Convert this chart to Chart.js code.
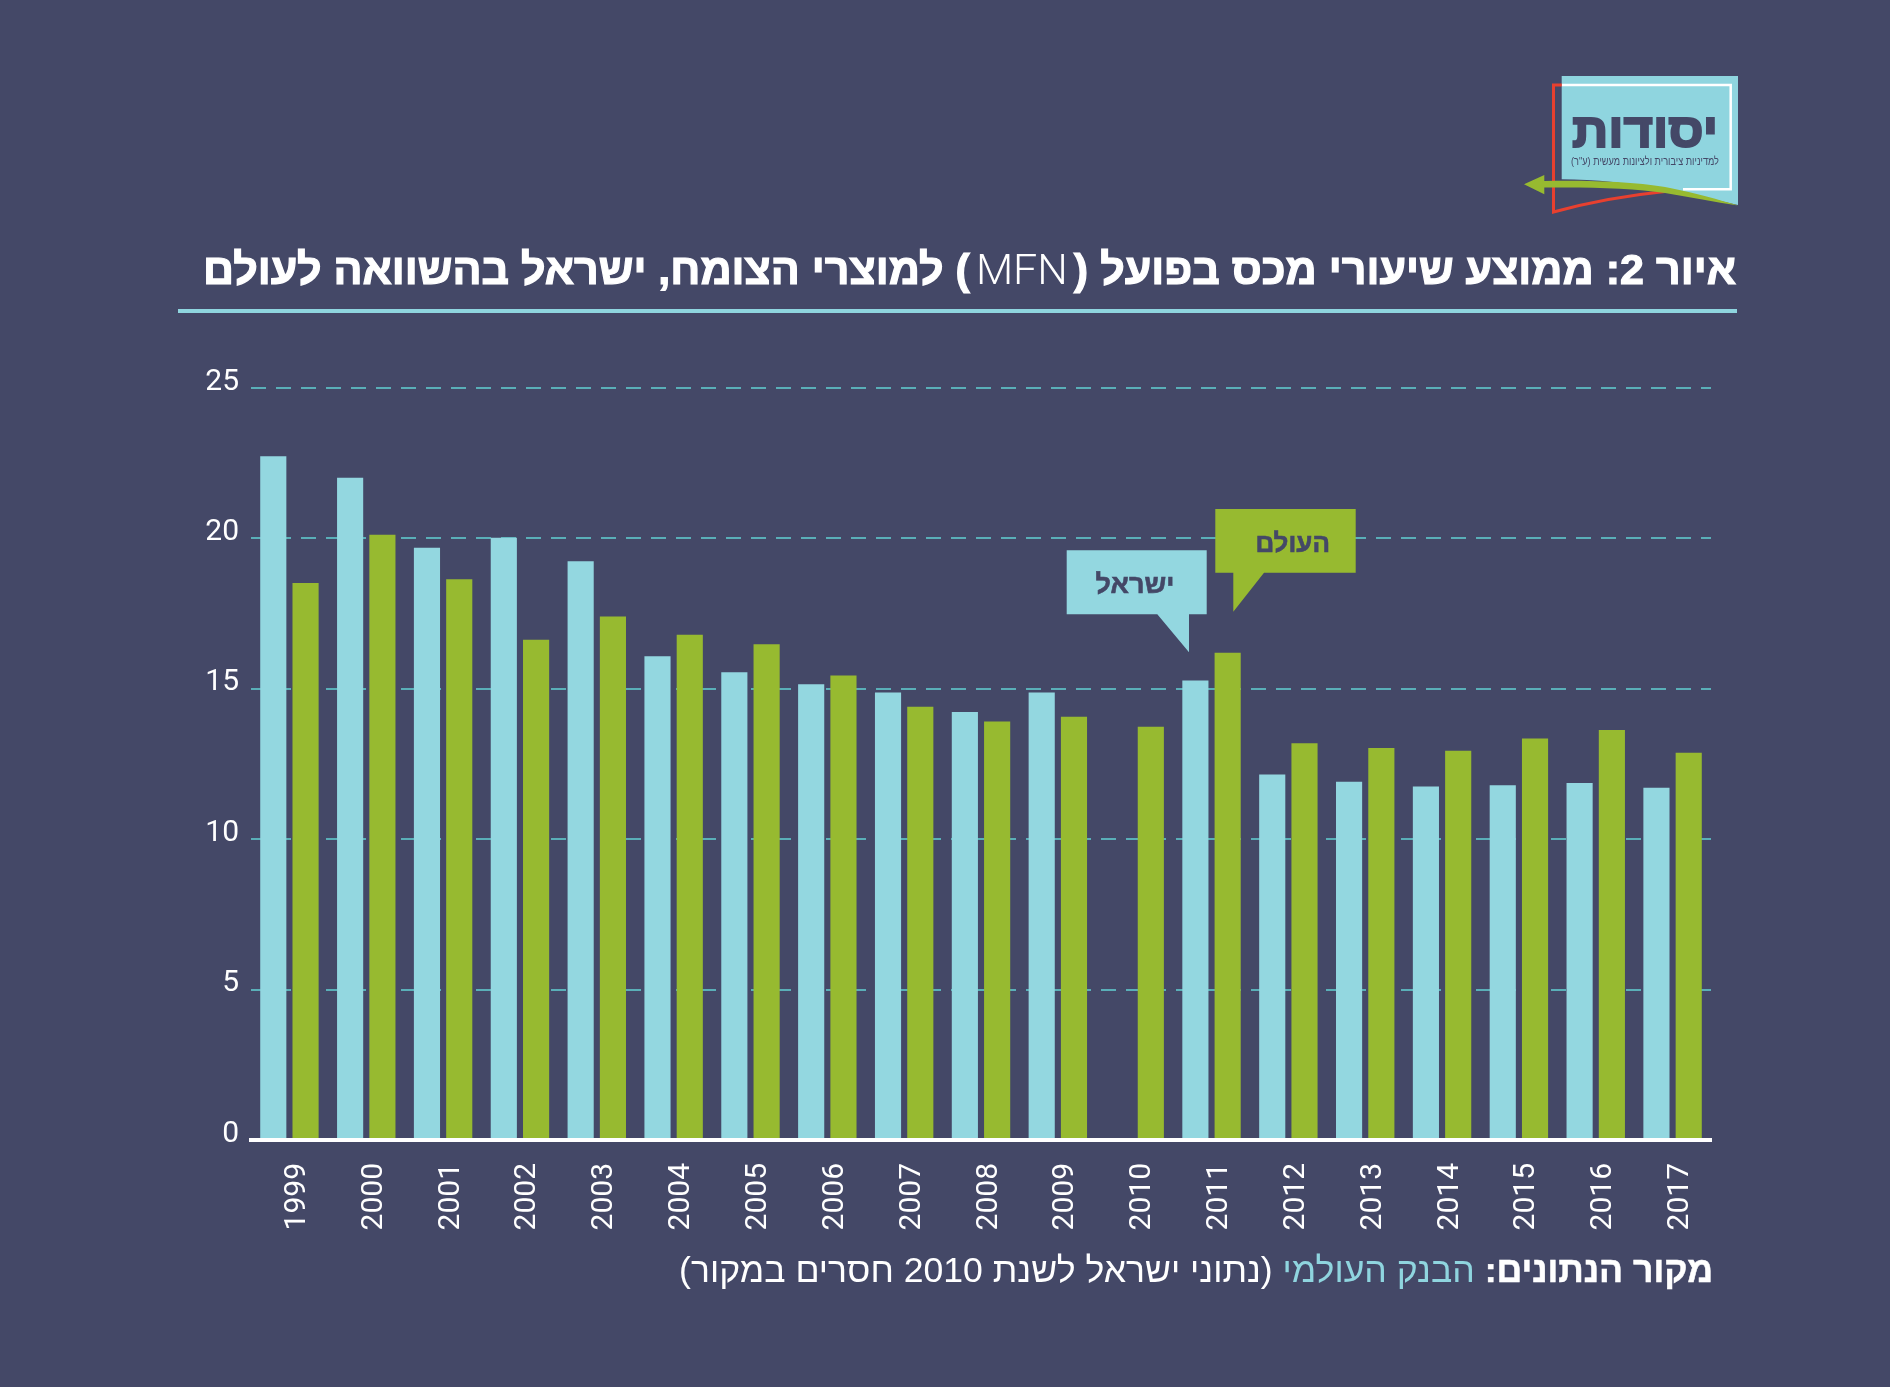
<!DOCTYPE html>
<html lang="he">
<head>
<meta charset="utf-8">
<title>איור 2</title>
<script src="https://cdn.jsdelivr.net/npm/chart.js@4"></script>
<style>
html,body{margin:0;padding:0;background:#444867;width:1890px;height:1387px;overflow:hidden}
#wrap{position:relative;width:1890px;height:1387px}
canvas{position:absolute;left:0;top:0}
svg{position:absolute;left:0;top:0}
.t{position:absolute;white-space:nowrap;direction:rtl;color:#fff}
#title{right:154px;top:244px;font:700 43px "Liberation Sans",sans-serif;-webkit-text-stroke:1.2px #fff;transform-origin:right center}
#title .m{font:300 43px Roboto,sans-serif;-webkit-text-stroke:0;padding:0 6px}
#rule{position:absolute;left:178px;top:309px;width:1559px;height:4px;background:#8fd5df}
#source{right:177px;top:1250px;font:400 35.6px "Liberation Sans",sans-serif;transform-origin:right center}
#source b{font-weight:700;-webkit-text-stroke:.5px #fff}
#source span{color:#8fd5df}
</style>
</head>
<body>
<div id="wrap">
<canvas id="c" width="1890" height="1387"></canvas>
<svg width="1890" height="1387" viewBox="0 0 1890 1387">
  <!-- logo -->
  <path d="M1561.7 76H1738V205C1690 194 1660 188 1613 182C1595 180 1578 179.5 1561.7 179.3Z" fill="#8fd5df"/>
  <path d="M1561.7 85H1730.7V189.3H1683" fill="none" stroke="#fff" stroke-width="2.5"/>
  <path d="M1561.7 85H1553.5V212C1590 202 1630 195 1665 191.5" fill="none" stroke="#e8402f" stroke-width="3"/>
  <path d="M1524 184.3L1544.3 175V181C1590 180 1640 182 1670 188C1695 193 1720 200 1738 205.5C1715 202 1690 197 1665 193C1635 188 1590 187 1544.3 187.5V194.3Z" fill="#97ba30"/>
  <text x="1645" y="146.5" text-anchor="middle" direction="rtl" font-family="Liberation Sans" font-weight="700" font-size="48" fill="#444867" stroke="#444867" stroke-width="2" textLength="146" lengthAdjust="spacingAndGlyphs">יסודות</text>
  <text x="1645" y="165" text-anchor="middle" direction="rtl" font-family="Liberation Sans" font-size="11" fill="#444867" textLength="148" lengthAdjust="spacingAndGlyphs">למדיניות ציבורית ולציונות מעשית (ע"ר)</text>
  <!-- callouts -->
  <path d="M1215.3 509H1355.7V572.7H1264L1233.3 611.7V572.7H1215.3Z" fill="#97ba30"/>
  <path d="M1066.7 550.3H1206.7V614.3H1189V652.3L1157.3 614.3H1066.7Z" fill="#93d7e0"/>
  <text x="1292.7" y="552" text-anchor="middle" direction="rtl" font-family="Liberation Sans" font-weight="700" font-size="26" fill="#444867" stroke="#444867" stroke-width=".6">העולם</text>
  <text x="1135" y="593" text-anchor="middle" direction="rtl" font-family="Liberation Sans" font-weight="700" font-size="27" fill="#444867" stroke="#444867" stroke-width=".6">ישראל</text>
</svg>
<div id="title" class="t">איור 2: ממוצע שיעורי מכס בפועל (<span class="m">MFN</span>) למוצרי הצומח, ישראל בהשוואה לעולם</div>
<div id="rule"></div>
<div id="source" class="t"><b>מקור הנתונים:</b> <span>הבנק העולמי</span> (נתוני ישראל לשנת 2010 חסרים במקור)</div>
</div>
<script>
const years = ['1999','2000','2001','2002','2003','2004','2005','2006','2007','2008','2009','2010','2011','2012','2013','2014','2015','2016','2017'];
const israel = [22.73,22.02,19.69,20.02,19.24,16.08,15.55,15.15,14.88,14.23,14.88,null,15.28,12.15,11.91,11.75,11.79,11.87,11.71];
const world = [18.52,20.12,18.64,16.63,17.4,16.8,16.48,15.44,14.4,13.91,14.07,13.74,16.2,13.19,13.03,12.94,13.35,13.63,12.87];
const yTicks = [0,5,10,15,20,25];

new Chart(document.getElementById('c'), {
  type: 'bar',
  data: {
    labels: years,
    datasets: [
      {label:'ישראל', data: israel, backgroundColor:'#93d7e0', categoryPercentage:.84, barPercentage:.81},
      {label:'העולם', data: world, backgroundColor:'#97ba30', categoryPercentage:.84, barPercentage:.81}
    ]
  },
  options: {
    responsive:false, animation:false, devicePixelRatio:1,
    layout:{padding:{left:0,top:388,right:179,bottom:0}},
    plugins:{legend:{display:false},title:{display:false},tooltip:{enabled:false}},
    scales:{
      x:{
        afterFit:s=>{s.height=247},
        grid:{display:false},
        border:{display:true,color:'#ffffff',width:4,z:1},
        ticks:{color:'#ffffff',font:{family:'Roboto',size:30,weight:'400'},minRotation:90,maxRotation:90,autoSkip:false,padding:15,labelOffset:8}
      },
      y:{
        min:0,max:25,
        afterFit:s=>{s.width=251},
        afterBuildTicks:s=>{s.ticks=yTicks.map(v=>({value:v}))},
        grid:{color:'#5aafb8',lineWidth:2,drawTicks:false},
        border:{display:false,dash:[15,10]},
        ticks:{color:'#ffffff',font:{family:'Roboto',size:30,weight:'400'},padding:12,labelOffset:-6}
      }
    }
  }
});
</script>
</body>
</html>
